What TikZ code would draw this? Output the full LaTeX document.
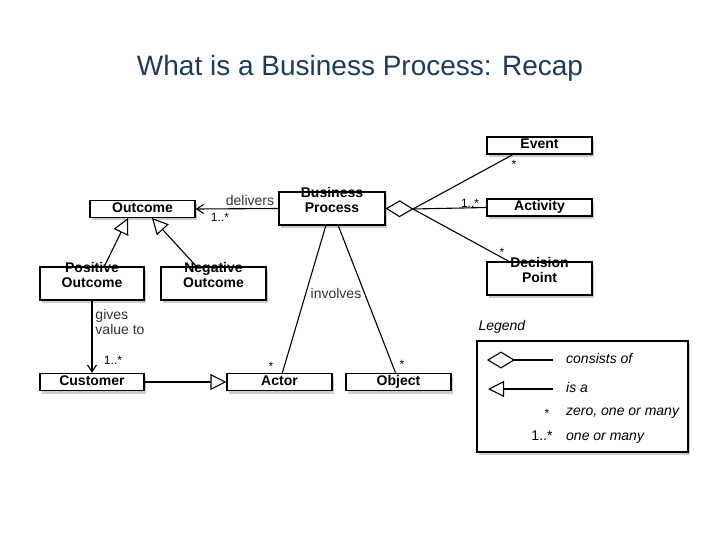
\documentclass[tikz,border=0pt]{standalone}
\usepackage{fontspec}
\setmainfont{Liberation Sans}
\usetikzlibrary{shadows,arrows.meta}
\definecolor{titleblue}{HTML}{1F3B5C}
\begin{document}
\begin{tikzpicture}[x=1pt,y=-1pt,
 box/.style={draw,line width=1.2pt,fill=white,font=\bfseries\fontsize{14}{15}\selectfont,align=center,inner sep=0pt,text height=10pt,text depth=3pt,drop shadow={shadow xshift=2pt,shadow yshift=-3pt,opacity=0.4}},
 lbl/.style={font=\fontsize{14}{15}\selectfont,text=black!80,inner sep=1pt},
 sm/.style={font=\fontsize{12}{13}\selectfont,inner sep=1pt},
 it/.style={font=\itshape\fontsize{14}{15}\selectfont,anchor=west,inner sep=0pt,text height=10pt,text depth=3pt},
 line/.style={line width=1.1pt},
 isa/.style={line width=1.1pt,-{Triangle[open,length=16pt,width=16pt]}},
 nav/.style={line width=1.1pt,-{Straight Barb[length=7pt,width=9pt]}},
 dia/.style={line width=1.1pt,{Diamond[open,length=28pt,width=17pt]}-}]
\useasboundingbox (0,0) rectangle (720,540);
\node[font=\fontsize{28}{32}\selectfont,text=titleblue] (title) at (360,68) {What is a Business Process: Recap};
\node[box,minimum width=105pt,minimum height=17pt] (out) at (142.5,209) {Outcome};
\node[box,minimum width=106pt,minimum height=33pt] (bp) at (332,208.5) {Business\\Process};
\node[box,minimum width=105pt,minimum height=17pt] (ev) at (539.5,145.5) {Event};
\node[box,minimum width=105pt,minimum height=17pt] (act) at (539.5,207.5) {Activity};
\node[box,minimum width=105pt,minimum height=33pt] (dp) at (539.5,278.5) {Decision\\Point};
\node[box,minimum width=104pt,minimum height=33pt] (po) at (92,283.5) {Positive\\Outcome};
\node[box,minimum width=105pt,minimum height=33pt] (no) at (213.5,283.5) {Negative\\Outcome};
\node[box,minimum width=104pt,minimum height=17pt] (cu) at (92,382) {Customer};
\node[box,minimum width=105pt,minimum height=17pt] (ac) at (279.5,382) {Actor};
\node[box,minimum width=105pt,minimum height=17pt] (ob) at (398.5,382) {Object};
\coordinate (dtip) at (413,209);
\draw[dia] (bp.east) -- (dtip);
\draw[line] (dtip) -- (514,154);
\draw[line] (dtip) -- (act.west);
\draw[line] (dtip) -- (510,262);
\node[sm] (s1) at (514,164) {*};
\node[sm] (s2) at (470,203) {1..*};
\node[sm] (s3) at (502,252) {*};
\draw[nav] (bp.west) -- (out.east);
\node[lbl] (del) at (250,200) {delivers};
\node[sm] (m1) at (220,217) {1..*};
\draw[isa] (104,267) -- (128,218);
\draw[isa] (197,267) -- (152,218);
\draw[nav] (po.south) -- (cu.north);
\node[lbl,align=left] (gv) at (120,322) {gives\\value to};
\node[sm] (m2) at (113,360) {1..*};
\draw[isa] (cu.east) -- (ac.west);
\draw[line] (326,225) -- (282,374);
\draw[line] (338,225) -- (396,374);
\node[lbl] (inv) at (336,293) {involves};
\node[sm] (s4) at (271,366) {*};
\node[sm] (s5) at (402,364) {*};
\node[font=\itshape\fontsize{14}{15}\selectfont,anchor=west] (leg) at (475,327) {Legend};
\node[draw,line width=1.2pt,minimum width=211pt,minimum height=111pt,drop shadow={shadow xshift=2pt,shadow yshift=-3pt,opacity=0.4},fill=white] (lb) at (582.5,396.5) {};
\coordinate (l1) at (553,360);
\draw[line width=1.1pt,{Diamond[open,length=28pt,width=17pt]}-] (487,360) -- (l1);
\node[it] (t1) at (566,360) {consists of};
\coordinate (l2) at (553,389);
\draw[line width=1.1pt,{Triangle[open,length=16pt,width=16pt]}-] (488,389) -- (l2);
\node[it] (t2) at (566,389) {is a};
\node[sm] (l3) at (547,413) {*};
\node[it] (t3) at (566,412) {zero, one or many};
\node[font=\fontsize{14}{15}\selectfont,text height=10pt,text depth=3pt] (l4) at (542,437) {1..*};
\node[it] (t4) at (566,437) {one or many};
\end{tikzpicture}
\end{document}
